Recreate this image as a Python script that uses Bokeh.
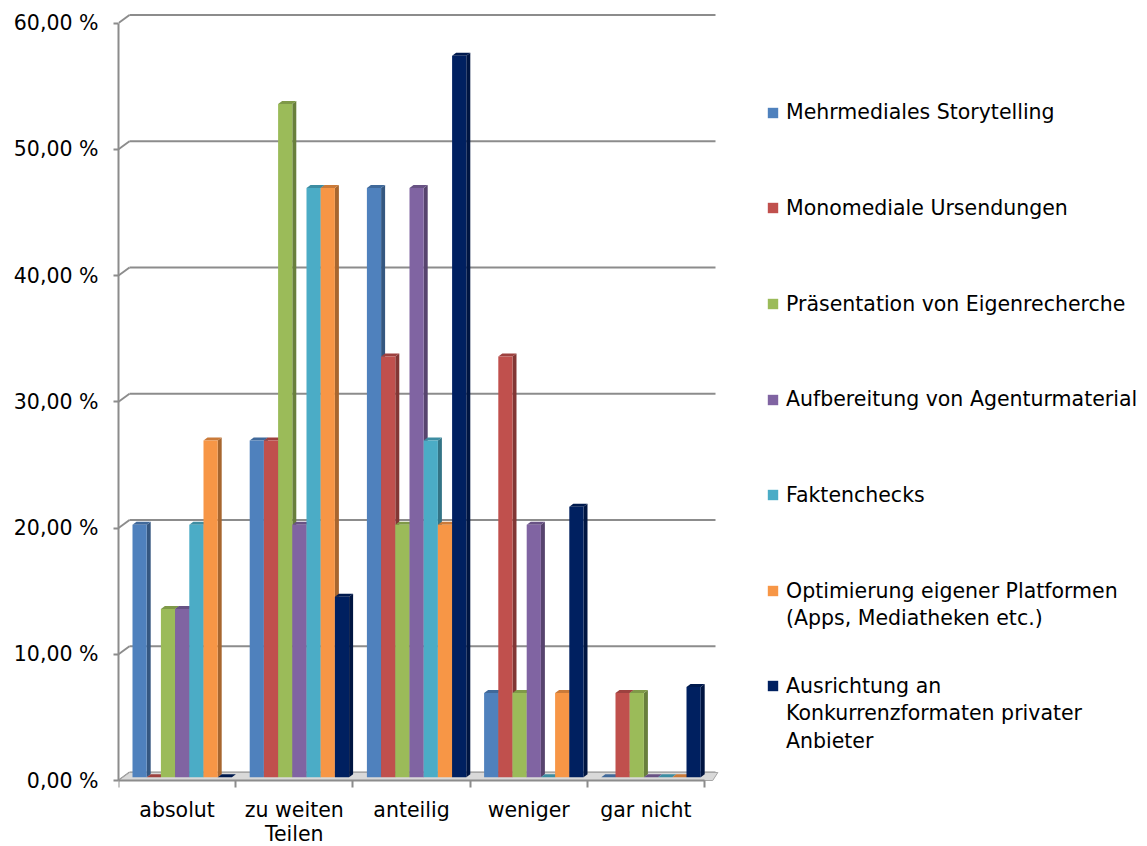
from bokeh.plotting import figure
from bokeh.models import Range1d, FixedTicker, Legend, LegendItem
from bokeh.embed import file_html
from bokeh.resources import INLINE

# ---------------- data ----------------
categories = ["absolut", "zu weiten Teilen", "anteilig", "weniger", "gar nicht"]
category_labels = ["absolut", "zu weiten\nTeilen", "anteilig", "weniger", "gar nicht"]

series_names = [
    "Mehrmediales Storytelling",
    "Monomediale Ursendungen",
    "Präsentation von Eigenrecherche",
    "Aufbereitung von Agenturmaterial",
    "Faktenchecks",
    "Optimierung eigener Platformen\n(Apps, Mediatheken etc.)",
    "Ausrichtung an\nKonkurrenzformaten privater\nAnbieter",
]

mehrmediales_storytelling = [20.00, 26.67, 46.67, 6.67, 0.00]
monomediale_ursendungen = [0.00, 26.67, 33.33, 33.33, 6.67]
praesentation_eigenrecherche = [13.33, 53.33, 20.00, 6.67, 6.67]
aufbereitung_agenturmaterial = [13.33, 20.00, 46.67, 20.00, 0.00]
faktenchecks = [20.00, 46.67, 26.67, 0.00, 0.00]
optimierung_plattformen = [26.67, 46.67, 20.00, 6.67, 0.00]
ausrichtung_konkurrenz = [0.00, 14.29, 57.14, 21.43, 7.14]

series_values = [
    mehrmediales_storytelling,
    monomediale_ursendungen,
    praesentation_eigenrecherche,
    aufbereitung_agenturmaterial,
    faktenchecks,
    optimierung_plattformen,
    ausrichtung_konkurrenz,
]

colors = ["#4F81BD", "#C0504D", "#9BBB59", "#8064A2", "#4BACC6", "#F79646", "#002060"]

y_ticks = [0, 10, 20, 30, 40, 50, 60]
y_tick_labels = ["0,00 %", "10,00 %", "20,00 %", "30,00 %", "40,00 %", "50,00 %", "60,00 %"]

# ---------------- layout / style ----------------
W_PX, H_PX = 1147, 846
LEFT = 118
PX_X = 117.2          # px per category
PX_Y = 12.625         # px per percent
ZERO_Y = 780          # canvas y of 0 %
x_end = (W_PX - LEFT) / PX_X
y_start = -(H_PX - ZERO_Y) / PX_Y
y_end = ZERO_Y / PX_Y

FONT = "DejaVu Sans"
FONT_SIZE = "20.5px"
GRID = "#8c8c8c"

BW = 14.2 / PX_X           # bar width
OFF0 = (14 + 7.1) / PX_X   # first bar centre offset inside category
DX = 4 / PX_X              # bar depth (x)
DY = 3 / PX_Y              # bar depth (y)
BASE = 3.3 / PX_Y          # bar lift above front floor edge
DXW = 11 / PX_X            # wall depth (x)
DYW = 8 / PX_Y             # wall depth (y)


def shade(hex_color, f):
    h = hex_color.lstrip("#")
    r, g, b = (int(h[i:i + 2], 16) for i in (0, 2, 4))
    return "#%02x%02x%02x" % (int(r * f), int(g * f), int(b * f))


p = figure(width=W_PX, height=H_PX,
           x_range=Range1d(0, x_end), y_range=Range1d(y_start, y_end),
           output_backend="svg", toolbar_location=None,
           min_border_left=LEFT, min_border_right=0,
           min_border_top=0, min_border_bottom=0)
p.outline_line_color = None
p.xgrid.visible = False
p.ygrid.visible = False

nc = len(categories)
n = len(y_ticks)

# back wall gridlines + side diagonals
p.segment(x0=[0] * n, y0=y_ticks, x1=[DXW] * n, y1=[v + DYW for v in y_ticks],
          line_color=GRID, line_width=2)
p.segment(x0=[DXW] * n, y0=[v + DYW for v in y_ticks],
          x1=[nc + DXW] * n, y1=[v + DYW for v in y_ticks],
          line_color=GRID, line_width=2)

# floor
p.patch([0, nc + 0.07, nc + DXW + 0.02, DXW], [0, 0, DYW, DYW],
        fill_color="#d9d9d9", line_color="#a6a6a6", line_width=1)

# 3D-ish bars
renderers = []
for j, (vals, col) in enumerate(zip(series_values, colors)):
    xc = [i + OFF0 + j * BW for i in range(nc)]
    tops = [v + BASE for v in vals]
    side_xs = [[x + BW / 2, x + BW / 2 + DX, x + BW / 2 + DX, x + BW / 2] for x in xc]
    side_ys = [[BASE, BASE + DY, t + DY, t] for t in tops]
    top_xs = [[x - BW / 2, x + BW / 2, x + BW / 2 + DX, x - BW / 2 + DX] for x in xc]
    top_ys = [[t, t, t + DY, t + DY] for t in tops]
    p.patches(side_xs, side_ys, fill_color=shade(col, 0.68), line_color=None)
    p.patches(top_xs, top_ys, fill_color=shade(col, 0.82), line_color=None)
    r = p.vbar(x=xc, width=BW, bottom=BASE, top=tops, fill_color=col, line_color=None)
    renderers.append(r)

# y axis
ya = p.yaxis[0]
ya.ticker = FixedTicker(ticks=y_ticks)
ya.major_label_overrides = {t: l for t, l in zip(y_ticks, y_tick_labels)}
ya.bounds = (0, 60)
ya.axis_line_color = GRID
ya.axis_line_width = 2
ya.major_tick_line_color = GRID
ya.major_tick_line_width = 2
ya.major_tick_out = 5
ya.major_tick_in = 0
ya.minor_tick_line_color = None
ya.major_label_standoff = 15
ya.major_label_text_font = FONT
ya.major_label_text_font_size = FONT_SIZE
ya.major_label_text_color = "#000000"

# x axis (drawn at y = 0)
xa = p.xaxis[0]
xa.fixed_location = 0
centers = [i + 0.5 for i in range(nc)]
xa.ticker = FixedTicker(ticks=centers, minor_ticks=list(range(nc + 1)))
xa.major_label_overrides = {c: l for c, l in zip(centers, category_labels)}
xa.bounds = (0, nc)
xa.axis_line_color = GRID
xa.axis_line_width = 2
xa.major_tick_line_color = None
xa.major_tick_out = 0
xa.major_tick_in = 0
xa.minor_tick_line_color = GRID
xa.minor_tick_line_width = 2
xa.minor_tick_out = 7
xa.minor_tick_in = 0
xa.major_label_standoff = 10
xa.major_label_text_font = FONT
xa.major_label_text_font_size = FONT_SIZE
xa.major_label_text_line_height = 1.0
xa.major_label_text_color = "#000000"

# legend: one box per text line, square only on the first line of an entry
LINE_H = 27.5
LINE_STEP = 27.5
first_line_centres = [110.5, 206, 302, 397.5, 493, 589, 684]
for name, r, yc in zip(series_names, renderers, first_line_centres):
    for k, line in enumerate(name.split("\n")):
        c = yc + k * LINE_STEP
        bottom = c + LINE_H / 2
        gw = 13 if k == 0 else 0
        leg = Legend(items=[LegendItem(label=line, renderers=[r])],
                     location=(766 - LEFT, H_PX - bottom),
                     padding=0, margin=0, spacing=0,
                     border_line_color=None, background_fill_alpha=0,
                     glyph_width=gw, glyph_height=13,
                     label_standoff=7 if k == 0 else 20,
                     label_height=13,
                     label_text_font=FONT, label_text_font_size=FONT_SIZE,
                     label_text_line_height=1.34, label_text_color="#000000")
        p.add_layout(leg)

open("out.html", "w").write(file_html(p, INLINE))
